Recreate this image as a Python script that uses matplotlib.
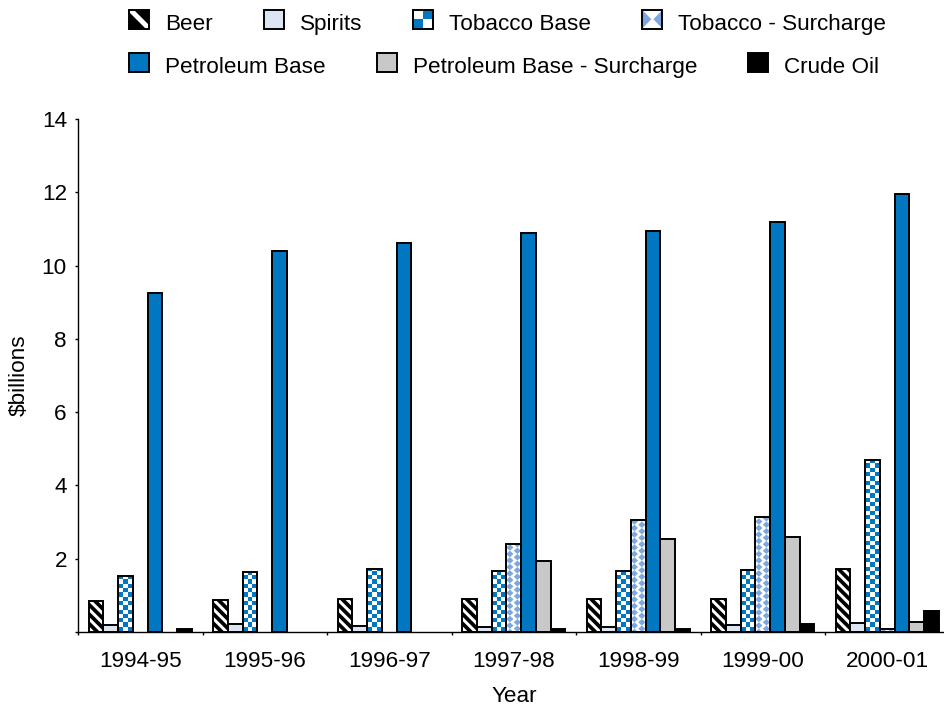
import numpy as np
import matplotlib
matplotlib.use("Agg")
import matplotlib.pyplot as plt
from matplotlib.patches import Rectangle
from matplotlib.collections import PolyCollection

plt.rcParams["font.family"] = ["Liberation Sans", "DejaVu Sans"]

# ---- data ($ billions) ----
years = ["1994-95", "1995-96", "1996-97", "1997-98", "1998-99", "1999-00", "2000-01"]
series_names = ["Beer", "Spirits", "Tobacco Base", "Tobacco - Surcharge",
                "Petroleum Base", "Petroleum Base - Surcharge", "Crude Oil"]
beer = [0.85, 0.88, 0.90, 0.90, 0.90, 0.90, 1.72]
spirits = [0.20, 0.22, 0.17, 0.15, 0.15, 0.18, 0.25]
tobacco_base = [1.53, 1.63, 1.73, 1.66, 1.66, 1.68, 4.70]
tobacco_surcharge = [0.0, 0.0, 0.0, 2.40, 3.06, 3.14, 0.07]
petroleum_base = [9.25, 10.40, 10.62, 10.88, 10.95, 11.18, 11.95]
petroleum_surcharge = [0.0, 0.0, 0.0, 1.95, 2.55, 2.58, 0.28]
crude_oil = [0.08, 0.0, 0.0, 0.09, 0.09, 0.22, 0.56]

series_values = [beer, spirits, tobacco_base, tobacco_surcharge,
                 petroleum_base, petroleum_surcharge, crude_oil]
series_styles = ["stripes", "spirits", "checker", "diamond",
                 "petrol", "petrol_sur", "crude"]

BLUE = "#0077C0"
LIGHT_BLUE = "#7CA8DE"
FACES = {
    "stripes": "black",
    "spirits": "#DCE6F2",
    "checker": "white",
    "diamond": "white",
    "petrol": BLUE,
    "petrol_sur": "#C8C8C8",
    "crude": "black",
}
EDGE_LW = 1.4
FS = 16.2


# ---- fill patterns, built in pixel units ----
def stripe_polys(w, h, period, band, phase):
    polys = []
    c = phase - period * np.ceil((phase + band) / period)
    while c < w + h:
        polys.append([(0, c), (0, c + band), (w, c + band - w), (w, c - w)])
        c += period
    return polys


def checker_polys(w, h, size, x_off, y_off):
    polys = []
    nx = int(np.ceil((w - x_off) / size)) + 1
    ny = int(np.ceil((h - y_off) / size)) + 1
    for i in range(-1, nx):
        for j in range(-1, ny):
            if (i + j) % 2 == 0:
                x = x_off + i * size
                y = y_off + j * size
                polys.append([(x, y), (x + size, y), (x + size, y + size), (x, y + size)])
    return polys


def diamond_polys(w, h, q, r, a, b, x_off):
    polys = []
    nx = int(np.ceil(w / q)) + 2
    ny = int(np.ceil(h / r)) + 2
    for i in range(-1, nx):
        for j in range(-1, ny):
            cx = x_off + i * q
            cy = j * r + (i % 2) * r / 2
            polys.append([(cx - a, cy), (cx, cy + b), (cx + a, cy), (cx, cy - b)])
    return polys


def bowtie_polys(w, h):
    # two inward-pointing triangles on the left and right sides of a swatch
    return [[(0, 0), (w * 0.45, h / 2), (0, h)],
            [(w, 0), (w * 0.55, h / 2), (w, h)]]


def pattern(style, w_px, h_px, legend=False):
    """Return (polygons in px, colour) for a fill style."""
    if style == "stripes":
        if legend:
            return stripe_polys(w_px, h_px, 60, 7, w_px - 3.5), "white"
        return stripe_polys(w_px, h_px, 9.5, 4.2, 2.0), "white"
    if style == "checker":
        s = 9.0 if legend else 4.3
        return checker_polys(w_px, h_px, s, 1.0, 1.0), BLUE
    if style == "diamond":
        if legend:
            return bowtie_polys(w_px, h_px), LIGHT_BLUE
        return diamond_polys(w_px, h_px, 7.5, 6.5, 3.6, 3.3, 3.5), LIGHT_BLUE
    return [], None


def to_coords(polys, x0, y0, ux, uy):
    return [[(x0 + px * ux, y0 + py * uy) for px, py in poly] for poly in polys]


# ---- figure ----
W, H, DPI = 944, 706, 100
fig = plt.figure(figsize=(W / DPI, H / DPI), dpi=DPI)
ax_left, ax_bottom, ax_w, ax_h = 78, 74, 871.5, 513
ax = fig.add_axes([ax_left / W, ax_bottom / H, ax_w / W, ax_h / H])

n_cat = len(years)
xlim = (-0.5, n_cat - 0.5)
ylim = (0, 14)
ax.set_xlim(*xlim)
ax.set_ylim(*ylim)

ux = (xlim[1] - xlim[0]) / ax_w      # data units per pixel
uy = (ylim[1] - ylim[0]) / ax_h

n_ser = len(series_values)
bar_w = 0.1185
x = np.arange(n_cat)

for k, (vals, style) in enumerate(zip(series_values, series_styles)):
    offs = (k - (n_ser - 1) / 2) * bar_w
    vals = np.asarray(vals, dtype=float)
    keep = vals > 0
    xs = x[keep] + offs
    hs = vals[keep]
    faces = ax.bar(xs, hs, width=bar_w, color=FACES[style], edgecolor="none",
                   linewidth=0, zorder=2)
    for patch, xc, hv in zip(faces, xs, hs):
        x0 = xc - bar_w / 2
        polys, pcol = pattern(style, bar_w / ux, hv / uy)
        if polys:
            coll = PolyCollection(to_coords(polys, x0, 0.0, ux, uy),
                                  facecolors=pcol, edgecolors="none", zorder=2.1)
            ax.add_collection(coll)
            coll.set_clip_path(patch)
    ax.bar(xs, hs, width=bar_w, facecolor="none", edgecolor="black",
           linewidth=EDGE_LW, zorder=2.2)

# ---- axes styling ----
for side in ("top", "right"):
    ax.spines[side].set_visible(False)
for side in ("left", "bottom"):
    ax.spines[side].set_linewidth(1.0)
    ax.spines[side].set_color("black")

ax.set_yticks(np.arange(0, 15, 2),
              labels=[""] + [str(v) for v in range(2, 15, 2)])
ax.tick_params(axis="y", direction="out", length=2.5, width=1.0,
               pad=5.5, labelsize=FS)

ax.set_xticks(x, labels=years)
ax.set_xticks(np.arange(-0.5, n_cat, 1.0), minor=True)
ax.tick_params(axis="x", which="major", length=0, pad=14, labelsize=FS)
ax.tick_params(axis="x", which="minor", direction="out", length=2.5, width=1.0)

ax.set_xlabel("Year", fontsize=FS)
ax.xaxis.set_label_coords(0.5, -0.105)
ax.set_ylabel("$billions", fontsize=FS)
ax.yaxis.set_label_coords(-0.055, 0.5)


# ---- legend with patterned swatches ----
class Swatch:
    def __init__(self, style):
        self.style = style


class SwatchHandler:
    def legend_artist(self, legend, orig_handle, fontsize, handlebox):
        x0, y0 = handlebox.xdescent, handlebox.ydescent
        w, h = handlebox.width, handlebox.height
        tr = handlebox.get_transform()
        style = orig_handle.style
        base = Rectangle((x0, y0), w, h, facecolor=FACES[style],
                         edgecolor="none", transform=tr)
        handlebox.add_artist(base)
        pt_per_px = 72.0 / DPI
        polys, pcol = pattern(style, w / pt_per_px, h / pt_per_px, legend=True)
        if polys:
            coll = PolyCollection(to_coords(polys, x0, y0, pt_per_px, pt_per_px),
                                  facecolors=pcol, edgecolors="none", transform=tr)
            coll.set_clip_path(base)
            handlebox.add_artist(coll)
        outline = Rectangle((x0, y0), w, h, facecolor="none", edgecolor="black",
                            linewidth=EDGE_LW, transform=tr)
        handlebox.add_artist(outline)
        return outline


handles = [Swatch(s) for s in series_styles]
legend_kw = dict(loc="center left", frameon=False, fontsize=FS,
                 handlelength=0.89, handleheight=0.89, handletextpad=0.71,
                 columnspacing=2.27, borderpad=0, borderaxespad=0,
                 handler_map={Swatch: SwatchHandler()})
fig.legend(handles[:4], series_names[:4], ncol=4,
           bbox_to_anchor=(129 / W, 1 - 24 / H), **legend_kw)
fig.legend(handles[4:], series_names[4:], ncol=3,
           bbox_to_anchor=(129 / W, 1 - 67 / H), **legend_kw)

fig.savefig("out.png", dpi=DPI)
